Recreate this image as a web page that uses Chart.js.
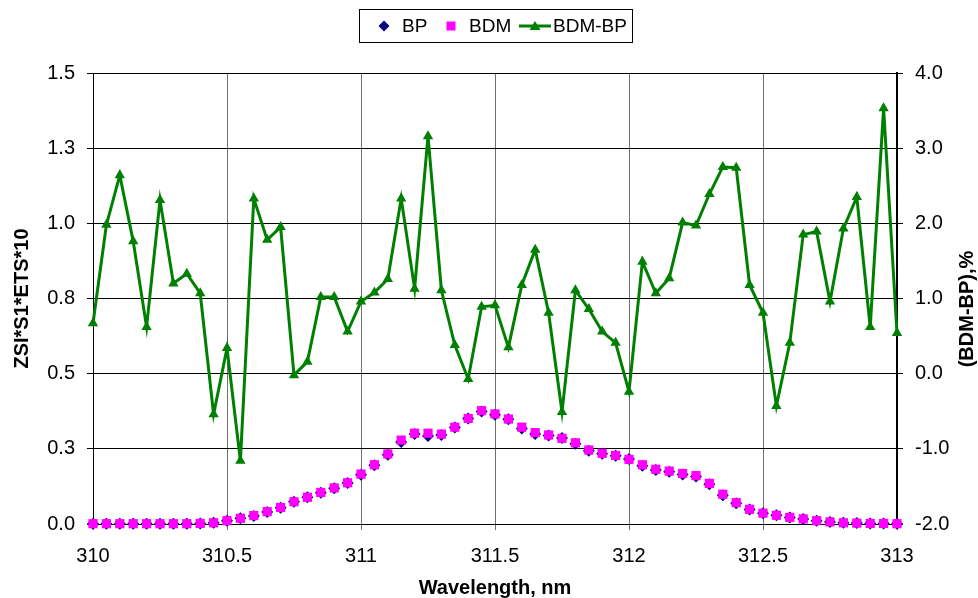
<!DOCTYPE html>
<html>
<head>
<meta charset="utf-8">
<script src="https://cdn.jsdelivr.net/npm/chart.js@4.4.0/dist/chart.umd.min.js"></script>
<style>
  html, body { margin: 0; padding: 0; background: #fff; }
  #wrap { width: 978px; height: 598px; }
</style>
</head>
<body>
<div id="wrap"><canvas id="spectrumChart" width="978" height="598"></canvas></div>
<script>
const wavelengths = [
  310, 310.05, 310.1, 310.15, 310.2, 310.25, 310.3, 310.35, 310.4, 310.45,
  310.5, 310.55, 310.6, 310.65, 310.7, 310.75, 310.8, 310.85, 310.9, 310.95,
  311, 311.05, 311.1, 311.15, 311.2, 311.25, 311.3, 311.35, 311.4, 311.45,
  311.5, 311.55, 311.6, 311.65, 311.7, 311.75, 311.8, 311.85, 311.9, 311.95,
  312, 312.05, 312.1, 312.15, 312.2, 312.25, 312.3, 312.35, 312.4, 312.45,
  312.5, 312.55, 312.6, 312.65, 312.7, 312.75, 312.8, 312.85, 312.9, 312.95,
  313
];

const bpValues = [
  0.001, 0.001, 0.001, 0.001, 0.001, 0.001, 0.001, 0.001, 0.002, 0.004,
  0.011, 0.019, 0.027, 0.040, 0.054, 0.074, 0.089, 0.104, 0.119, 0.136,
  0.164, 0.195, 0.230, 0.273, 0.299, 0.293, 0.296, 0.321, 0.351, 0.374,
  0.363, 0.348, 0.318, 0.299, 0.294, 0.286, 0.267, 0.244, 0.234, 0.227,
  0.216, 0.194, 0.180, 0.174, 0.165, 0.158, 0.132, 0.096, 0.069, 0.048,
  0.036, 0.029, 0.022, 0.017, 0.011, 0.007, 0.004, 0.003, 0.002, 0.002,
  0.001
];

const bdmValues = [
  0.001, 0.001, 0.001, 0.001, 0.001, 0.001, 0.001, 0.001, 0.002, 0.004,
  0.011, 0.019, 0.028, 0.041, 0.055, 0.074, 0.089, 0.105, 0.120, 0.137,
  0.166, 0.197, 0.233, 0.279, 0.302, 0.302, 0.299, 0.322, 0.351, 0.377,
  0.366, 0.349, 0.322, 0.304, 0.296, 0.285, 0.270, 0.246, 0.235, 0.228,
  0.215, 0.197, 0.182, 0.176, 0.168, 0.161, 0.135, 0.099, 0.071, 0.049,
  0.036, 0.029, 0.022, 0.017, 0.011, 0.007, 0.004, 0.003, 0.002, 0.002,
  0.001
];

// (BDM-BP), % -- right axis
const diffValues = [
  0.67, 1.98, 2.64, 1.76, 0.62, 2.31, 1.20, 1.33, 1.07, -0.54,
  0.34, -1.16, 2.33, 1.78, 1.95, -0.02, 0.16, 1.02, 1.02, 0.56,
  0.96, 1.08, 1.26, 2.33, 1.13, 3.16, 1.11, 0.38, -0.07, 0.89,
  0.91, 0.35, 1.18, 1.65, 0.81, -0.51, 1.11, 0.86, 0.56, 0.41,
  -0.24, 1.49, 1.07, 1.27, 2.01, 1.97, 2.39, 2.75, 2.74, 1.18,
  0.81, -0.43, 0.41, 1.85, 1.89, 0.96, 1.93, 2.35, 0.62, 3.53,
  0.54
];

const seriesNames = ['BP', 'BDM', 'BDM-BP'];
const xTitle = 'Wavelength, nm';
const leftTitle = 'ZSI*S1*ETS*10';
const rightTitle = '(BDM-BP),%';

const FONT = 'Liberation Sans, Arial, sans-serif';

const toPoints = ys => wavelengths.map((x, i) => ({ x: x, y: ys[i] }));

// legend in a box above the plot + right axis title read bottom-to-top
const boxLegend = {
  id: 'boxLegend',
  afterDraw(chart) {
    const ctx = chart.ctx;
    const ca = chart.chartArea;
    const cx = Math.round((ca.left + ca.right) / 2);
    const cy = 26;
    ctx.save();
    ctx.strokeStyle = '#000';
    ctx.lineWidth = 1;
    ctx.strokeRect(cx - 136 + 0.5, 9.5, 273, 33);

    // BP diamond
    ctx.fillStyle = '#000080';
    ctx.beginPath();
    ctx.moveTo(cx - 111, cy - 5.5);
    ctx.lineTo(cx - 105.5, cy);
    ctx.lineTo(cx - 111, cy + 5.5);
    ctx.lineTo(cx - 116.5, cy);
    ctx.closePath();
    ctx.fill();

    // BDM square
    ctx.fillStyle = '#ff00ff';
    ctx.fillRect(cx - 48.5, cy - 4.5, 9, 9);

    // BDM-BP line with triangle
    ctx.strokeStyle = '#008000';
    ctx.lineWidth = 3;
    ctx.beginPath();
    ctx.moveTo(cx + 24, cy);
    ctx.lineTo(cx + 56, cy);
    ctx.stroke();
    ctx.fillStyle = '#008000';
    ctx.beginPath();
    ctx.moveTo(cx + 40, cy - 5);
    ctx.lineTo(cx + 45.5, cy + 4);
    ctx.lineTo(cx + 34.5, cy + 4);
    ctx.closePath();
    ctx.fill();

    ctx.fillStyle = '#000';
    ctx.font = '19px ' + FONT;
    ctx.textAlign = 'left';
    ctx.textBaseline = 'middle';
    ctx.fillText(seriesNames[0], cx - 93, cy + 1);
    ctx.fillText(seriesNames[1], cx - 26, cy + 1);
    ctx.fillText(seriesNames[2], cx + 58, cy + 1);

    // right axis title
    ctx.translate(967, 309);
    ctx.rotate(-Math.PI / 2);
    ctx.font = 'bold 20px ' + FONT;
    ctx.textAlign = 'center';
    ctx.fillText(rightTitle, 0, 0);
    ctx.restore();
  }
};

const ctx = document.getElementById('spectrumChart').getContext('2d');

new Chart(ctx, {
  type: 'line',
  data: {
    datasets: [
      {
        label: seriesNames[0],
        data: toPoints(bpValues),
        yAxisID: 'y',
        showLine: false,
        clip: false,
        pointStyle: 'rectRot',
        pointRadius: 6,
        pointHoverRadius: 6,
        pointBorderWidth: 0,
        backgroundColor: '#000080',
        borderColor: '#000080',
        order: 2
      },
      {
        label: seriesNames[1],
        data: toPoints(bdmValues),
        yAxisID: 'y',
        showLine: false,
        clip: false,
        pointStyle: 'rect',
        pointRadius: 6.5,
        pointHoverRadius: 6.5,
        pointBorderWidth: 0,
        backgroundColor: '#ff00ff',
        borderColor: '#ff00ff',
        order: 1
      },
      {
        label: seriesNames[2],
        data: toPoints(diffValues),
        yAxisID: 'y2',
        clip: false,
        borderColor: '#008000',
        backgroundColor: '#008000',
        borderWidth: 3,
        tension: 0,
        pointStyle: 'triangle',
        pointRadius: 6,
        pointHoverRadius: 6,
        pointBorderWidth: 0,
        order: 0
      }
    ]
  },
  options: {
    responsive: false,
    animation: false,
    layout: { padding: { top: 73, left: 0, right: 0, bottom: 0 } },
    plugins: {
      legend: { display: false },
      tooltip: { enabled: true }
    },
    scales: {
      x: {
        type: 'linear',
        min: 310,
        max: 313,
        afterFit(scale) { scale.height = 74; },
        ticks: {
          stepSize: 0.5,
          padding: 14,
          color: '#000',
          font: { family: FONT, size: 20 },
          callback: v => String(+v)
        },
        grid: { color: '#707070', lineWidth: 1, tickLength: 6 },
        border: { color: '#000', width: 1 },
        title: {
          display: true,
          text: xTitle,
          color: '#000',
          font: { family: FONT, size: 20, weight: 'bold', lineHeight: 1 },
          padding: 0
        }
      },
      y: {
        position: 'left',
        min: 0,
        max: 1.5,
        afterFit(scale) { scale.width = 93; },
        ticks: {
          stepSize: 0.25,
          padding: 12,
          color: '#000',
          font: { family: FONT, size: 20 },
          callback: v => v.toFixed(1)
        },
        grid: { color: '#000', lineWidth: 1, tickLength: 6 },
        border: { color: '#000', width: 1 },
        title: {
          display: true,
          text: leftTitle,
          color: '#000',
          font: { family: FONT, size: 20, weight: 'bold', lineHeight: 1 },
          padding: { top: 12, bottom: 0 }
        }
      },
      y2: {
        position: 'right',
        min: -2,
        max: 4,
        afterFit(scale) { scale.width = 81; },
        ticks: {
          stepSize: 1,
          padding: 12,
          color: '#000',
          font: { family: FONT, size: 20 },
          callback: v => v.toFixed(1)
        },
        grid: { drawOnChartArea: false, color: '#000', tickLength: 6 },
        border: { color: '#000', width: 2 }
      }
    }
  },
  plugins: [boxLegend]
});
</script>
</body>
</html>
